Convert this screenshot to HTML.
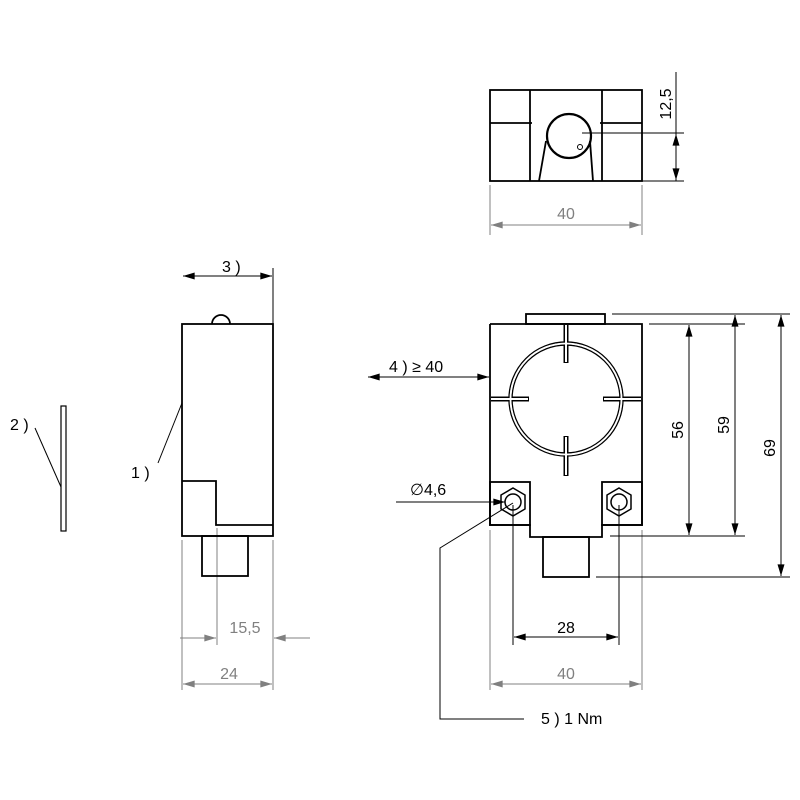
<!DOCTYPE html>
<html><head><style>body{margin:0;background:#fff}svg{display:block}text{font-family:"Liberation Sans",sans-serif}</style></head><body>
<svg width="800" height="800" viewBox="0 0 800 800" xmlns="http://www.w3.org/2000/svg">
<defs>
<marker id="a" viewBox="0 0 10 6" refX="10" refY="3" markerWidth="18" markerHeight="7" markerUnits="userSpaceOnUse" orient="auto-start-reverse"><path d="M0,0L10,3L0,6z" fill="#000"/></marker>
<marker id="g" viewBox="0 0 10 6" refX="10" refY="3" markerWidth="18" markerHeight="7" markerUnits="userSpaceOnUse" orient="auto-start-reverse"><path d="M0,0L10,3L0,6z" fill="#808080"/></marker>
</defs>
<g fill="none" stroke="#000" stroke-width="1.8">
<rect x="490" y="90" width="152" height="91"/>
<line x1="530" y1="90" x2="530" y2="181"/><line x1="602" y1="90" x2="602" y2="181"/>
<line x1="490" y1="123" x2="532" y2="123"/><line x1="600" y1="123" x2="642" y2="123"/>
<circle cx="569" cy="136" r="22" stroke-width="2.2"/>
<line x1="539" y1="181" x2="546" y2="141"/><line x1="593" y1="181" x2="590" y2="141"/>
<circle cx="580" cy="147" r="2.5" stroke-width="1"/>
</g>
<g stroke="#000" stroke-width="1" fill="none">
<line x1="676" y1="72" x2="676" y2="181"/>
<line x1="582" y1="133" x2="684" y2="133"/><line x1="642" y1="181" x2="684" y2="181"/>
<line x1="676" y1="134" x2="676" y2="180" marker-start="url(#a)" marker-end="url(#a)"/>
</g>
<text x="671" y="104" font-size="16" transform="rotate(-90 671 104)" text-anchor="middle">12,5</text>
<g stroke="#808080" stroke-width="1" fill="none">
<line x1="490" y1="185" x2="490" y2="235"/><line x1="642" y1="185" x2="642" y2="235"/>
<line x1="491" y1="225" x2="641" y2="225" marker-start="url(#g)" marker-end="url(#g)"/>
<line x1="182" y1="540" x2="182" y2="690"/><line x1="217" y1="528" x2="217" y2="645"/><line x1="273" y1="540" x2="273" y2="690"/>
<line x1="180" y1="638" x2="216" y2="638" marker-end="url(#g)"/>
<line x1="310" y1="638" x2="274" y2="638" marker-end="url(#g)"/>
<line x1="183" y1="684" x2="272" y2="684" marker-start="url(#g)" marker-end="url(#g)"/>
<line x1="490" y1="530" x2="490" y2="690"/><line x1="642" y1="530" x2="642" y2="690"/>
<line x1="491" y1="684" x2="641" y2="684" marker-start="url(#g)" marker-end="url(#g)"/>
</g>
<g font-size="16" fill="#808080" text-anchor="middle">
<text x="566" y="219">40</text><text x="245" y="633">15,5</text><text x="229" y="679">24</text><text x="566" y="679">40</text>
</g>
<g fill="none" stroke="#000" stroke-width="1.8">
<rect x="182" y="324" width="91" height="212"/>
<polyline points="182,481 216,481 216,525 273,525"/>
<path d="M212,324 A9,9 0 0 1 230,324"/>
<rect x="202" y="536" width="46" height="40"/>
<rect x="61" y="406" width="5" height="125" stroke-width="1.2"/>
</g>
<g stroke="#000" stroke-width="1" fill="none">
<line x1="273" y1="268" x2="273" y2="324"/>
<line x1="183" y1="276" x2="272" y2="276" marker-start="url(#a)" marker-end="url(#a)"/>
<line x1="182" y1="403" x2="158" y2="463"/>
<line x1="35" y1="428" x2="61" y2="487"/>
</g>
<g font-size="16" fill="#000">
<text x="222" y="272">3 )</text><text x="131" y="478">1 )</text><text x="10" y="430">2 )</text>
<text x="389" y="372">4 )  ≥ 40</text>
<text x="410" y="495">∅4,6</text>
<text x="541" y="724">5 )  1 Nm</text>
<text x="566" y="633" text-anchor="middle">28</text>
<text x="683" y="430" transform="rotate(-90 683 430)" text-anchor="middle">56</text>
<text x="729" y="425" transform="rotate(-90 729 425)" text-anchor="middle">59</text>
<text x="775" y="448" transform="rotate(-90 775 448)" text-anchor="middle">69</text>
</g>
<g fill="none" stroke="#000" stroke-width="1.8">
<rect x="526" y="314" width="79" height="10"/>
<polyline points="490,324 642,324 642,525 602,525 602,537 530,537 530,525 490,525 490,324"/>
<rect x="490" y="482" width="40" height="43"/>
<rect x="602" y="482" width="40" height="43"/>
<rect x="543" y="537" width="46" height="40"/>
<circle cx="566" cy="399" r="57" stroke-width="1.4"/>
<circle cx="566" cy="399" r="54" stroke-width="1.4"/>
</g>
<g stroke="#000" stroke-width="5" fill="none">
<line x1="566" y1="325" x2="566" y2="363"/><line x1="566" y1="436" x2="566" y2="476"/>
<line x1="491" y1="399" x2="529" y2="399"/><line x1="603" y1="399" x2="641" y2="399"/>
</g>
<g stroke="#fff" stroke-width="2" fill="none">
<line x1="566" y1="325" x2="566" y2="362"/><line x1="566" y1="437" x2="566" y2="475"/>
<line x1="491" y1="399" x2="528" y2="399"/><line x1="604" y1="399" x2="641" y2="399"/>
<circle cx="566" cy="399" r="55.5" stroke-width="1.8"/>
</g>
<g fill="none" stroke="#000" stroke-width="1.5">
<polygon points="513,488 525,495 525,509 513,516 501,509 501,495"/>
<circle cx="513" cy="502" r="8"/>
<polygon points="619,488 631,495 631,509 619,516 607,509 607,495"/>
<circle cx="619" cy="502" r="8"/>
</g>
<g stroke="#000" stroke-width="1" fill="none">
<line x1="513" y1="505" x2="513" y2="645"/><line x1="619" y1="505" x2="619" y2="645"/>
<line x1="514" y1="637" x2="618" y2="637" marker-start="url(#a)" marker-end="url(#a)"/>
<line x1="612" y1="314" x2="790" y2="314"/><line x1="649" y1="324" x2="745" y2="324"/>
<line x1="610" y1="536" x2="745" y2="536"/><line x1="596" y1="577" x2="790" y2="577"/>
<line x1="689" y1="325" x2="689" y2="535" marker-start="url(#a)" marker-end="url(#a)"/>
<line x1="735" y1="315" x2="735" y2="535" marker-start="url(#a)" marker-end="url(#a)"/>
<line x1="781" y1="315" x2="781" y2="576" marker-start="url(#a)" marker-end="url(#a)"/>
<line x1="368" y1="377" x2="489" y2="377" marker-start="url(#a)" marker-end="url(#a)"/>
<line x1="396" y1="502" x2="505" y2="502" marker-end="url(#a)"/>
<polyline points="513,503 440,548 440,719 524,719"/>
</g>
</svg>
</body></html>
